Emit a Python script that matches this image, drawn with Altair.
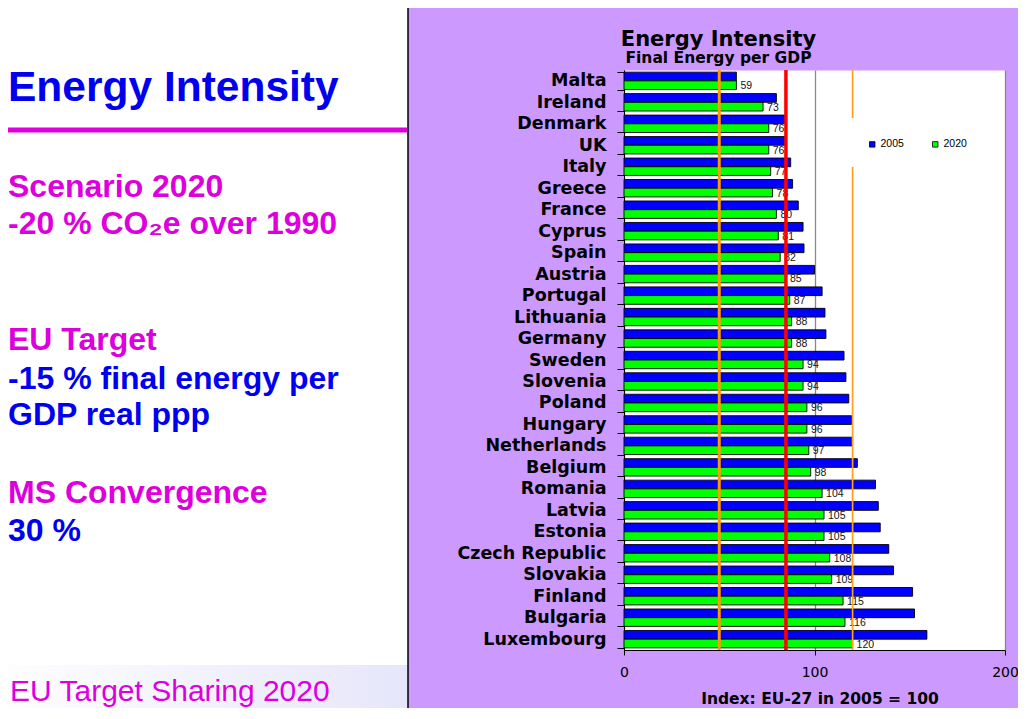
import altair as alt
import pandas as pd

countries = ["Malta", "Ireland", "Denmark", "UK", "Italy", "Greece", "France",
             "Cyprus", "Spain", "Austria", "Portugal", "Lithuania", "Germany",
             "Sweden", "Slovenia", "Poland", "Hungary", "Netherlands", "Belgium",
             "Romania", "Latvia", "Estonia", "Czech Republic", "Slovakia",
             "Finland", "Bulgaria", "Luxembourg"]
v2005 = [59, 80, 84.5, 84.5, 87.5, 88.5, 91.5, 94, 94.5, 100, 104, 105.5, 106,
         115.5, 116.5, 118, 119.5, 120, 122.5, 132, 133.5, 134.5, 139, 141.5,
         151.5, 152.5, 159]
v2020 = [59, 73, 76, 76, 77, 78, 80, 81, 82, 85, 87, 88, 88, 94, 94, 96, 96, 97,
         98, 104, 105, 105, 108, 109, 115, 116, 120]
series = ["2005", "2020"]
x_ticks = [0, 100, 200]
target_line = [85]
band_low = [50]
band_high = [120]

rows = []
for i, c in enumerate(countries):
    rows.append({"country": c, "series": "2005", "value": v2005[i]})
    rows.append({"country": c, "series": "2020", "value": v2020[i]})
df = pd.DataFrame(rows)
one = pd.DataFrame({"k": [0]})

x_enc = alt.X(
    "value:Q",
    scale=alt.Scale(domain=[0, 200], nice=False),
    axis=alt.Axis(
        values=x_ticks, title="Index: EU-27 in 2005 = 100",
        titleFont="DejaVu Sans", titleFontWeight="bold", titleFontSize=15.5,
        titleColor="black", titleX=195.5, titleY=53, titleBaseline="alphabetic",
        titleAlign="center", labelFont="DejaVu Sans", labelFontSize=14,
        labelColor="black", labelPadding=10, labelFlush=False, tickSize=5,
        tickColor="black", domainColor="black", grid=True, gridColor="#888888",
        gridWidth=1.3),
)
y_enc = alt.Y(
    "country:N", sort=countries,
    scale=alt.Scale(paddingInner=0.19, paddingOuter=0.1),
    axis=alt.Axis(
        title=None, labelFont="DejaVu Sans", labelFontWeight="bold",
        labelFontSize=17.5, labelColor="black", labelPadding=11, tickSize=7,
        tickColor="black", tickBand="extent", domainColor="black",
        domainWidth=1, grid=False, labelLimit=300),
)
yoff_enc = alt.YOffset("series:N", sort=series,
                       scale=alt.Scale(domain=series, paddingInner=0, paddingOuter=0))

# ---- slide decoration (left panel) ----
left_white = alt.Chart(one).mark_rect(fill="white").encode(
    x=alt.value(-640), x2=alt.value(-216), y=alt.value(-70), y2=alt.value(660))
footer = alt.Chart(one).mark_rect(
    fill=alt.LinearGradient(
        gradient="linear",
        stops=[alt.GradientStop(color="#FFFFFF", offset=0),
               alt.GradientStop(color="#E6E6FA", offset=1)],
        x1=0, x2=1, y1=0, y2=0)
).encode(x=alt.value(-640), x2=alt.value(-216), y=alt.value(595), y2=alt.value(660))
panel_edge = alt.Chart(one).mark_rule(color="black", strokeWidth=1.5).encode(
    x=alt.value(-216), y=alt.value(-70), y2=alt.value(660))
magenta_rule = alt.Chart(one).mark_rule(color="#DD00DD", strokeWidth=5).encode(
    x=alt.value(-640), x2=alt.value(-217), y=alt.value(60))


def left_text(txt, y, color, size=32, weight="bold", x=-616):
    return alt.Chart(one).mark_text(
        text=txt, align="left", baseline="alphabetic", font="Liberation Sans",
        fontSize=size, fontWeight=weight, color=color
    ).encode(x=alt.value(x), y=alt.value(y))


BLUE = "#0000EE"
MAG = "#DD00DD"
texts = [
    left_text("Energy Intensity", 31, BLUE, size=42.5),
    left_text("Scenario 2020", 127, MAG),
    left_text("-20 % CO\u2082e over 1990", 164, MAG),
    left_text("EU Target", 280, MAG),
    left_text("-15 % final energy per", 319, BLUE),
    left_text("GDP real ppp", 355, BLUE),
    left_text("MS Convergence", 433, MAG),
    left_text("30 %", 471, BLUE),
    left_text("EU Target Sharing 2020", 631, MAG, size=30, weight="normal", x=-614),
]

# ---- chart titles ----
title1 = alt.Chart(one).mark_text(
    text="Energy Intensity", align="center", baseline="alphabetic",
    font="DejaVu Sans", fontWeight="bold", fontSize=21, color="black"
).encode(x=alt.value(94.5), y=alt.value(-24.5))
title2 = alt.Chart(one).mark_text(
    text="Final Energy per GDP", align="center", baseline="alphabetic",
    font="DejaVu Sans", fontWeight="bold", fontSize=15.5, color="black"
).encode(x=alt.value(94.5), y=alt.value(-7))

# ---- bars ----
bars = alt.Chart(df).mark_bar(stroke="black", strokeWidth=0.9).encode(
    x=x_enc, y=y_enc, yOffset=yoff_enc,
    color=alt.Color(
        "series:N",
        scale=alt.Scale(domain=series, range=["#0000FF", "#00FF00"]),
        legend=alt.Legend(
            title=None, orient="none", legendX=243, legendY=69,
            direction="horizontal", symbolType="square", symbolSize=30,
            symbolStrokeColor="black", symbolStrokeWidth=0.8,
            labelFont="Liberation Sans", labelFontSize=10.5, labelColor="black",
            columnPadding=26, labelOffset=3, padding=0)),
)
labels = alt.Chart(df).transform_filter("datum.series == '2020'").mark_text(
    align="left", baseline="middle", dx=4, dy=1, font="Liberation Sans",
    fontSize=10.5, color="#111111"
).encode(x=x_enc, y=y_enc, yOffset=yoff_enc,
         text=alt.Text("value:Q", format="d"))

rule_low = alt.Chart(pd.DataFrame({"value": band_low})).mark_rule(
    color="#FF9900", strokeWidth=3).encode(x=x_enc)
rule_target = alt.Chart(pd.DataFrame({"value": target_line})).mark_rule(
    color="#FF0000", strokeWidth=3.5).encode(x=x_enc)
rule_high = alt.Chart(pd.DataFrame({"value": band_high})).mark_rule(
    color="#FFA020", strokeWidth=1.7).encode(x=x_enc)
legend_box = alt.Chart(one).mark_rect(fill="white").encode(
    x=alt.value(216), x2=alt.value(380), y=alt.value(48), y2=alt.value(97))

chart = alt.layer(
    left_white, footer, panel_edge, magenta_rule, *texts, title1, title2,
    bars, labels, rule_low, rule_target, rule_high, legend_box
).properties(
    width=381, height=580, autosize="none",
    padding={"left": 616, "top": 62, "right": 13, "bottom": 58},
).configure(background="#CC99FF").configure_view(fill="white", stroke="transparent")

chart.save("out.html", embed_options={"renderer": "svg", "actions": False})
